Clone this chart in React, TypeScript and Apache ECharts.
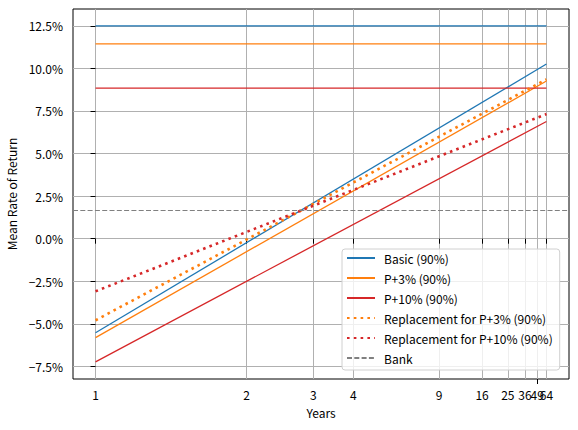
import React, { useEffect, useRef } from 'react';
import * as echarts from 'echarts';

// tick years shown on the x axis (the axis is linear in 1 - 1/sqrt(years))
const tickYears = [1, 2, 3, 4, 9, 16, 25, 36, 64];
// 49 sits on a second axis so that ECharts does not drop it for overlapping 64
const extraTickYears = [49];
const yTicks = [-7.5, -5, -2.5, 0, 2.5, 5, 7.5, 10, 12.5];

// each line is drawn between year 1 and year 64
const lineYears = [1, 64];
const basic = [-5.52, 10.26];
const p3 = [-5.81, 9.26];
const p10 = [-7.23, 6.88];
const basicLimit = [12.5, 12.5];
const p3Limit = [11.44, 11.44];
const p10Limit = [8.84, 8.84];
const replP3 = [-4.79, 9.36];
const replP10 = [-3.09, 7.32];
const bankRate = 1.69;

const FONT = '"Noto Sans CJK SC", "Noto Sans", sans-serif';

const toAxis = (years: number) => 1 - 1 / Math.sqrt(years);
const pairs = (vals: number[]) => lineYears.map((y, i) => [toAxis(y), vals[i]]);

const BLUE = '#1f77b4';
const ORANGE = '#ff7f0e';
const RED = '#d62728';
const GRAY = '#808080';

const xMin = toAxis(1) - 0.04375;
const xMax = toAxis(64) + 0.04375;

const yearAxis = (years: number[]) => ({
  type: 'value',
  min: xMin,
  max: xMax,
  position: 'bottom',
  axisLine: { show: false },
  axisTick: {
    show: true,
    length: 5,
    customValues: years.map(toAxis),
    lineStyle: { color: '#000' },
  },
  axisLabel: {
    customValues: years.map(toAxis),
    showMinLabel: true,
    showMaxLabel: true,
    margin: 9,
    fontSize: 12,
    color: '#000',
    fontFamily: FONT,
    formatter: (v: number) => String(Math.round(1 / Math.pow(1 - v, 2))),
  },
  splitLine: { show: true, lineStyle: { color: '#b0b0b0', width: 1 } },
});

const App: React.FC = () => {
  const chartRef = useRef<HTMLDivElement>(null);

  useEffect(() => {
    if (!chartRef.current) return;
    const chart = echarts.init(chartRef.current, null, { renderer: 'svg' });

    const solid = (name: string, color: string, vals: number[]) => ({
      name,
      type: 'line',
      symbol: 'none',
      data: pairs(vals),
      lineStyle: { color, width: 1.3 },
      itemStyle: { color },
    });
    const dotted = (name: string, color: string, vals: number[]) => ({
      name,
      type: 'line',
      symbol: 'none',
      data: pairs(vals),
      lineStyle: { color, width: 2.6, type: [2.6, 4.2] },
      itemStyle: { color },
    });

    chart.setOption({
      animation: false,
      textStyle: { fontFamily: FONT },
      grid: {
        left: 73,
        right: 9,
        top: 9,
        bottom: 51,
        show: true,
        borderColor: '#000',
        borderWidth: 1,
        containLabel: false,
        outerBoundsMode: 'none',
      },
      xAxis: [
        {
          ...yearAxis(tickYears),
          name: 'Years',
          nameLocation: 'middle',
          nameGap: 27,
          nameTextStyle: { fontSize: 12, color: '#000', fontFamily: FONT },
        },
        yearAxis(extraTickYears),
      ],
      yAxis: {
        type: 'value',
        min: -8.24,
        max: 13.49,
        name: 'Mean Rate of Return',
        nameLocation: 'middle',
        nameGap: 48,
        nameTextStyle: { fontSize: 12, color: '#000', fontFamily: FONT },
        axisLine: { show: false },
        axisTick: {
          show: true,
          length: 5,
          customValues: yTicks,
          lineStyle: { color: '#000' },
        },
        axisLabel: {
          customValues: yTicks,
          margin: 10,
          fontSize: 12,
          color: '#000',
          fontFamily: FONT,
          formatter: (v: number) => (v < 0 ? '\u2212' : '') + Math.abs(v).toFixed(1) + '%',
        },
        splitLine: { show: true, lineStyle: { color: '#b0b0b0', width: 1 } },
      },
      legend: {
        orient: 'vertical',
        left: 342,
        top: 249,
        padding: [3, 7, 6, 4],
        itemWidth: 28,
        itemHeight: 10,
        itemGap: 8,
        itemStyle: { opacity: 0 },
        backgroundColor: 'rgba(255,255,255,0.8)',
        borderColor: '#d0d0d0',
        borderWidth: 1,
        borderRadius: 3,
        textStyle: { fontSize: 12, color: '#000', fontFamily: FONT, padding: [0, 0, 0, 4] },
        data: [
          'Basic (90%)',
          'P+3% (90%)',
          'P+10% (90%)',
          'Replacement for P+3% (90%)',
          'Replacement for P+10% (90%)',
          'Bank',
        ],
      },
      series: [
        solid('Basic (90%)', BLUE, basic),
        solid('Basic (90%)', BLUE, basicLimit),
        solid('P+3% (90%)', ORANGE, p3),
        solid('P+3% (90%)', ORANGE, p3Limit),
        solid('P+10% (90%)', RED, p10),
        solid('P+10% (90%)', RED, p10Limit),
        dotted('Replacement for P+3% (90%)', ORANGE, replP3),
        dotted('Replacement for P+10% (90%)', RED, replP10),
        {
          name: 'Bank',
          type: 'line',
          symbol: 'none',
          data: [],
          lineStyle: { color: GRAY, width: 1.2, type: [5, 2.3] },
          itemStyle: { color: GRAY },
          markLine: {
            silent: true,
            symbol: 'none',
            label: { show: false },
            lineStyle: { color: GRAY, width: 1.2, type: [5, 2.3] },
            data: [{ yAxis: bankRate }],
          },
        },
      ],
    });

    return () => {
      chart.dispose();
    };
  }, []);

  return (
    <div
      ref={chartRef}
      style={{ position: 'absolute', left: 0, top: 0, width: 578, height: 430 }}
    />
  );
};

export default App;
